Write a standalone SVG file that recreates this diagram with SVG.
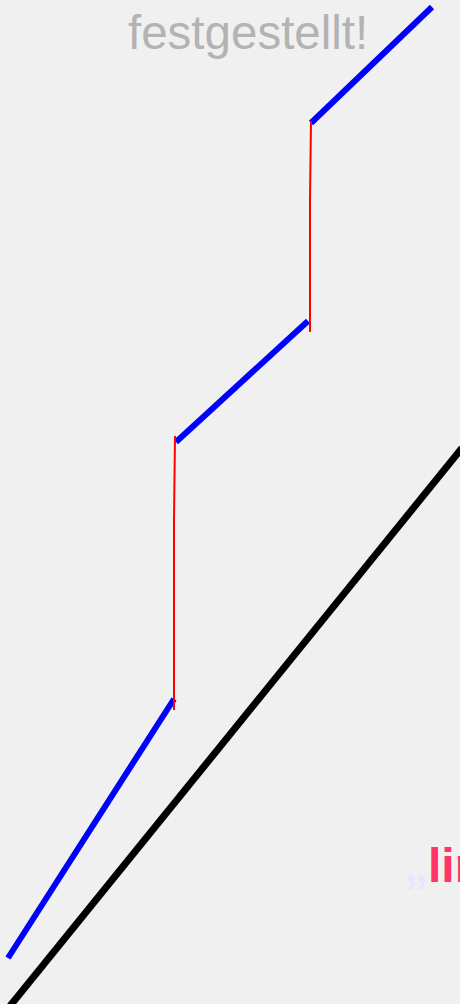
<svg xmlns="http://www.w3.org/2000/svg" width="460" height="1004" viewBox="0 0 460 1004">
<style>
.blue{stroke:#0000ff;stroke-width:6;fill:none}
.red{stroke:#ff0000;stroke-width:2;fill:none}
.black{stroke:#000;stroke-width:7;fill:none}
</style>
<rect width="460" height="1004" fill="#f0f0f0"/>
<text x="128" y="49" font-family="'Liberation Sans', Arial, sans-serif" font-size="47.5" fill="#b3b3b3">festgestellt!</text>
<g id="lines">
<line class="black" x1="462" y1="448" x2="10" y2="1006"/>
<line class="blue" x1="432" y1="7" x2="311" y2="123"/>
<line class="blue" x1="308" y1="321" x2="176" y2="442"/>
<line class="blue" x1="174" y1="699" x2="8" y2="958"/>
<polyline class="red" points="311,121 310,200 310,332"/>
<polyline class="red" points="175,436 174,520 174,710"/>
</g>
<text x="404" y="882" font-family="'Liberation Sans', Arial, sans-serif" font-size="48" font-weight="bold"><tspan fill="#e6e6ff">„</tspan><tspan fill="#ff3366">lin</tspan></text>
</svg>
